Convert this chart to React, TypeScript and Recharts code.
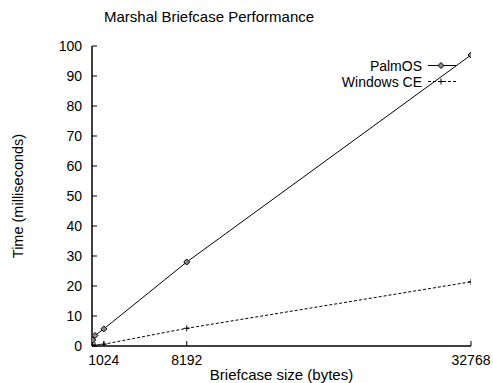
import React from "react";
import {
  LineChart,
  Line,
  XAxis,
  YAxis,
  Legend,
} from "recharts";

const sizes = [64, 256, 1024, 8192, 32768];
const palmOS = [2.0, 3.5, 5.7, 28.0, 97.0];
const windowsCE = [0.2, 0.3, 0.6, 5.9, 21.4];
const xTicks = [1024, 8192, 32768];
const yTicks = [0, 10, 20, 30, 40, 50, 60, 70, 80, 90, 100];

const data = sizes.map((size, i) => ({
  size,
  palm: palmOS[i],
  wince: windowsCE[i],
}));

const FONT = "'Liberation Sans', Arial, Helvetica, sans-serif";
const TICK_LEN = 5;

function LeftTick({ x, y, payload }: any) {
  // tickSize is 0, so the axis line sits tickMargin (10) to the right of x
  return (
    <g>
      <line x1={x + 10} x2={x + 10 + TICK_LEN} y1={y} y2={y} stroke="#000" />
      <text x={x} y={y} dy={5} textAnchor="end" fontSize={14} fontFamily={FONT} fill="#000">
        {payload.value}
      </text>
    </g>
  );
}

function RightTick({ x, y }: any) {
  return <line x1={x - 1} x2={x - 1 - TICK_LEN} y1={y} y2={y} stroke="#000" />;
}

function BottomTick({ x, y, payload }: any) {
  return (
    <g>
      <line x1={x} x2={x} y1={y - 6} y2={y - 6 - TICK_LEN} stroke="#000" />
      <text x={x} y={y + 13} textAnchor="middle" fontSize={14} fontFamily={FONT} fill="#000">
        {payload.value}
      </text>
    </g>
  );
}

function TopTick({ x, y }: any) {
  return <line x1={x} x2={x} y1={y + 1} y2={y + 1 + TICK_LEN} stroke="#000" />;
}

function Diamond({ cx, cy }: any) {
  if (cx == null || cy == null) return null;
  const r = 3;
  return (
    <path
      d={`M${cx},${cy - r}L${cx + r},${cy}L${cx},${cy + r}L${cx - r},${cy}Z`}
      fill="#888"
      stroke="#000"
      strokeWidth={1}
    />
  );
}

function Plus({ cx, cy }: any) {
  if (cx == null || cy == null) return null;
  const r = 3;
  return (
    <path
      d={`M${cx - r},${cy}H${cx + r}M${cx},${cy - r}V${cy + r}`}
      stroke="#000"
      strokeWidth={1}
      fill="none"
    />
  );
}

function YLabel({ viewBox }: any) {
  const cy = viewBox.y + viewBox.height / 2;
  return (
    <text
      x={23}
      y={cy}
      transform={`rotate(-90, 23, ${cy})`}
      textAnchor="middle"
      fontSize={14.5}
      fontFamily={FONT}
      fill="#000"
    >
      Time (milliseconds)
    </text>
  );
}

function LegendBox({ payload }: any) {
  const items = payload || [];
  return (
    <svg width={493} height={100} style={{ display: "block" }}>
      {items.map((item: any, i: number) => {
        const y = 65.5 + i * 16;
        const dashed = item.value === "Windows CE";
        return (
          <g key={item.value}>
            <text x={422} y={y + 5} textAnchor="end" fontSize={14} fontFamily={FONT} fill="#000">
              {item.value}
            </text>
            <line
              x1={428}
              x2={456}
              y1={y}
              y2={y}
              stroke="#000"
              strokeDasharray={dashed ? "3 2" : undefined}
            />
            {dashed ? <Plus cx={441} cy={y} /> : <Diamond cx={441} cy={y} />}
          </g>
        );
      })}
    </svg>
  );
}

export default function App() {
  return (
    <div style={{ position: "absolute", left: 0, top: 0, width: 493, height: 383, background: "#fff" }}>
      <div
        style={{
          position: "absolute",
          left: 104,
          top: 8,
          fontFamily: FONT,
          fontSize: 15,
          lineHeight: "17px",
          color: "#000",
          whiteSpace: "nowrap",
        }}
      >
        Marshal Briefcase Performance
      </div>
      <LineChart
        width={493}
        height={383}
        data={data}
        margin={{ top: 46, right: 22, bottom: 0, left: 0 }}
      >
        <XAxis
          dataKey="size"
          type="number"
          domain={[0, 32768]}
          ticks={xTicks}
          allowDataOverflow
          height={37}
          tickSize={0}
          tickMargin={6}
          tick={<BottomTick />}
          axisLine={{ stroke: "#000", strokeWidth: 1.5 }}
          label={{
            value: "Briefcase size (bytes)",
            position: "insideBottom",
            offset: 3,
            fill: "#000",
            fontSize: 15,
            fontFamily: FONT,
          }}
        />
        <XAxis
          xAxisId="top"
          dataKey="size"
          orientation="top"
          type="number"
          domain={[0, 32768]}
          ticks={xTicks}
          allowDataOverflow
          height={0}
          tickSize={0}
          tickMargin={0}
          tick={<TopTick />}
          axisLine={{ stroke: "#000", strokeWidth: 1.5 }}
        />
        <YAxis
          type="number"
          domain={[0, 100]}
          ticks={yTicks}
          allowDataOverflow
          width={92}
          tickSize={0}
          tickMargin={10}
          tick={<LeftTick />}
          axisLine={{ stroke: "#000", strokeWidth: 1.5 }}
          label={<YLabel />}
        />
        <YAxis
          yAxisId="right"
          orientation="right"
          type="number"
          domain={[0, 100]}
          ticks={yTicks}
          allowDataOverflow
          width={0}
          tickSize={0}
          tickMargin={0}
          tick={<RightTick />}
          axisLine={{ stroke: "#000", strokeWidth: 1.5 }}
        />
        <Legend
          layout="horizontal"
          align="center"
          verticalAlign="middle"
          content={<LegendBox />}
          wrapperStyle={{ left: 0, top: 0, width: 493, height: 100 }}
        />
        <Line
          name="PalmOS"
          dataKey="palm"
          stroke="#000"
          strokeWidth={1}
          dot={<Diamond />}
          activeDot={false}
          isAnimationActive={false}
        />
        <Line
          name="Windows CE"
          dataKey="wince"
          stroke="#000"
          strokeWidth={1}
          strokeDasharray="3 2"
          dot={<Plus />}
          activeDot={false}
          isAnimationActive={false}
        />
      </LineChart>
    </div>
  );
}
